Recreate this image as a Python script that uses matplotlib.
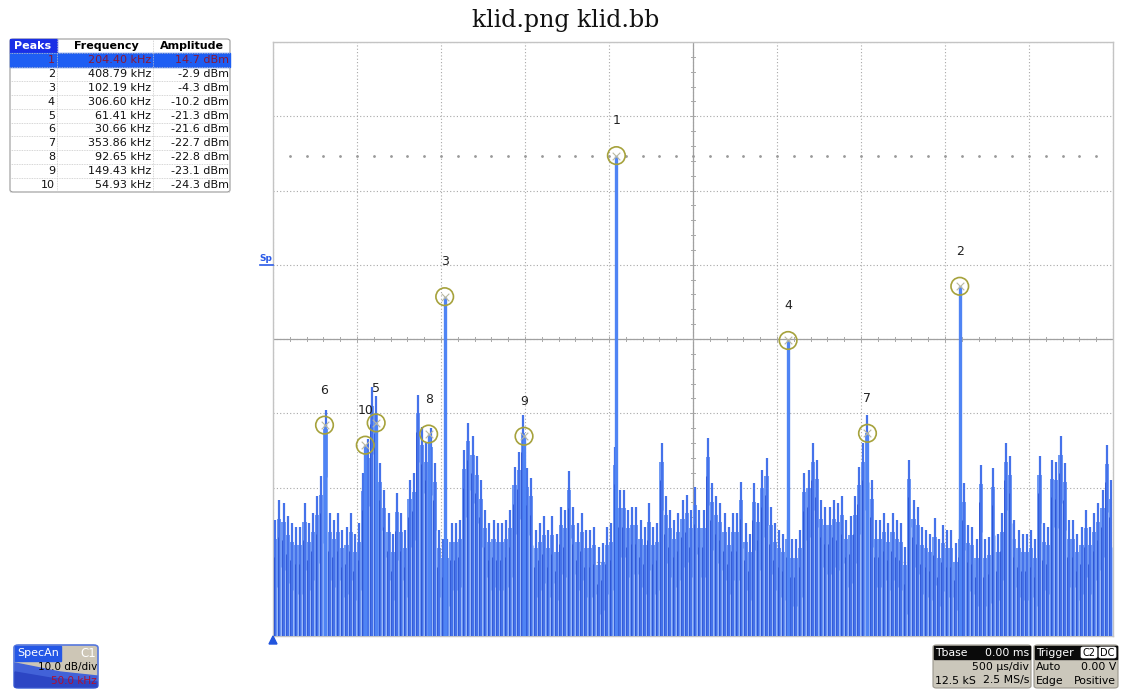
import numpy as np
import matplotlib
matplotlib.use("Agg")
import matplotlib.pyplot as plt
from matplotlib.patches import FancyBboxPatch, Rectangle, Polygon

# ---------------- data ----------------
# Peak table (frequency in kHz, amplitude in dBm)
peak_ids = [1, 2, 3, 4, 5, 6, 7, 8, 9, 10]
peak_freq_khz = [204.40, 408.79, 102.19, 306.60, 61.41, 30.66, 353.86, 92.65, 149.43, 54.93]
peak_amp_dbm = [14.7, -2.9, -4.3, -10.2, -21.3, -21.6, -22.7, -22.8, -23.1, -24.3]

# Spectrum envelope (dBm), one value per 2.5 kHz bin from 0 to 500 kHz
noise_top_dbm = [
    -34.4, -31.7, -32.1, -33.9, -34.8, -35.3, -35.3, -32.1, -34.8, -33.5,
    -31.2, -28.5, -19.6, -33.5, -34.4, -33.5, -35.7, -35.3, -33.5, -36.2,
    -34.8, -28.0, -23.5, -16.5, -17.7, -26.7, -30.3, -33.5, -36.2, -30.8,
    -33.5, -35.7, -29.0, -28.1, -17.5, -21.8, -24.0, -22.0, -26.7, -35.7,
    -37.0, -37.0, -34.8, -34.8, -34.4, -25.0, -21.3, -23.1, -25.8, -29.0,
    -33.0, -34.8, -34.4, -34.8, -34.8, -34.4, -33.0, -27.2, -25.2, -20.2,
    -27.4, -28.7, -35.7, -34.8, -33.9, -35.7, -33.9, -36.2, -32.6, -33.0,
    -27.8, -32.6, -34.8, -33.5, -35.7, -35.7, -35.3, -38.0, -37.5, -35.3,
    -34.8, -24.5, -30.3, -30.3, -33.0, -32.6, -32.6, -34.4, -35.3, -32.1,
    -35.3, -34.8, -24.0, -31.2, -33.0, -34.4, -33.5, -31.7, -31.0, -33.0,
    -29.9, -33.0, -33.0, -23.4, -29.4, -31.2, -32.1, -33.5, -35.3, -33.5,
    -33.5, -29.2, -34.8, -36.2, -29.4, -32.1, -27.6, -26.0, -32.6, -34.8,
    -35.7, -36.2, -34.4, -37.0, -37.0, -35.7, -28.1, -27.6, -24.0, -26.3,
    -31.7, -32.6, -32.6, -31.7, -32.1, -31.2, -34.4, -33.9, -31.2, -27.2,
    -24.0, -20.2, -29.0, -34.4, -34.4, -33.5, -34.8, -33.5, -34.4, -34.8,
    -38.0, -26.3, -31.7, -32.6, -35.3, -35.7, -36.2, -34.1, -37.0, -35.0,
    -35.7, -35.7, -37.5, -34.4, -29.4, -35.0, -35.3, -37.0, -27.0, -37.0,
    -36.6, -27.4, -36.2, -33.5, -24.0, -25.8, -34.4, -35.7, -36.2, -36.2,
    -35.7, -37.0, -25.8, -34.8, -35.3, -26.3, -26.5, -23.1, -26.7, -34.4,
    -34.4, -36.2, -35.3, -33.0, -35.3, -33.5, -32.1, -30.3, -24.3, -29.0,
]
bin_khz = 2.5
noise_freq_khz = np.arange(len(noise_top_dbm)) * bin_khz + bin_khz / 2

freq_span = (0, 500)      # kHz, 50 kHz/div
amp_span = (-50, 30)      # dBm, 10 dB/div

table_header = ["Peaks", "Frequency", "Amplitude"]
tbase_rows = [("Tbase", "0.00 ms"), ("", "500 µs/div"), ("12.5 kS", "2.5 MS/s")]
trigger_rows = [("Trigger", ""), ("Auto", "0.00 V"), ("Edge", "Positive")]

# ---------------- figure ----------------
W, H = 1121, 690
fig = plt.figure(figsize=(W / 100, H / 100), dpi=100)
fig.patch.set_facecolor("white")


def fx(px):
    return px / W


def fy(py):
    return 1 - py / H


# main grid
x0, x1, y0, y1 = 273, 1113, 42, 636
ax = fig.add_axes([fx(x0), fy(y1), (x1 - x0) / W, (y1 - y0) / H])
ax.set_xlim(*freq_span)
ax.set_ylim(*amp_span)
ax.set_xticks(np.arange(0, 501, 50))
ax.set_yticks(np.arange(-50, 31, 10))
ax.tick_params(length=0, labelbottom=False, labelleft=False)
ax.grid(True, color="#a8a8a8", linestyle=(0, (1, 2)), linewidth=0.8)
for s in ax.spines.values():
    s.set_color("#c4c4c4")
    s.set_linewidth(1.0)
ax.set_axisbelow(True)

# centre cross with minor ticks
ax.axhline(-10, color="#a0a0a0", lw=0.9, zorder=1)
ax.axvline(250, color="#a0a0a0", lw=0.9, zorder=1)
for f in np.arange(0, 501, 10):
    ax.plot([f, f], [-10.3, -9.7], color="#a8a8a8", lw=0.7, zorder=1)
for a in np.arange(-50, 31, 2):
    ax.plot([249.0, 251.0], [a, a], color="#a8a8a8", lw=0.7, zorder=1)

# dotted reference level at the strongest peak
ax.scatter(np.arange(10, 500, 10), np.full(49, peak_amp_dbm[0]), s=1.0,
           color="#9a9a9a", zorder=1)

# spectrum trace: dense body plus thin spikes up to the envelope
floor = amp_span[0]
tops = np.array(noise_top_dbm)
ax.fill_between(noise_freq_khz, floor, tops - 2.5, step="mid", color="#709af4",
                lw=0, zorder=2)
ax.vlines(noise_freq_khz, floor, tops, color="#4572ea", lw=1.6, zorder=3)
ax.vlines(noise_freq_khz - 0.9, floor, tops - 5, color="#2a52d2", lw=0.6,
          zorder=3)
ax.vlines(noise_freq_khz + 0.9, floor, tops - 9, color="#a3bff9", lw=0.6,
          zorder=3)
ax.vlines(peak_freq_khz, floor, peak_amp_dbm, color="#4f84f4", lw=2.4,
          zorder=4)

# peak markers
ax.scatter(peak_freq_khz, peak_amp_dbm, s=160, facecolors="none",
           edgecolors="#a6a23c", linewidths=1.2, zorder=6)
ax.scatter(peak_freq_khz, peak_amp_dbm, s=30, marker="x", color="#b8b8a0",
           linewidths=0.8, zorder=6)
for pid, f, a in zip(peak_ids, peak_freq_khz, peak_amp_dbm):
    ax.annotate(str(pid), (f, a), xytext=(0, 25), textcoords="offset points",
                ha="center", va="center", fontsize=9, color="#222222",
                zorder=7)

# ground marker and level marker
fig.patches.append(Polygon([[fx(269), fy(644)], [fx(277), fy(644)], [fx(273), fy(636)]],
                           closed=True, transform=fig.transFigure,
                           color="#2255dd"))
fig.text(fx(266), fy(258), "Sp", fontsize=6.5, color="#2a5ae8",
         fontweight="bold", ha="center", va="center")
fig.lines.append(plt.Line2D([fx(260), fx(273)], [fy(265), fy(265)],
                            transform=fig.transFigure, color="#2a5ae8", lw=1.2))

# title
fig.text(0.505, fy(20), "klid.png klid.bb", fontsize=17, family="DejaVu Serif",
         ha="center", va="center", color="#111111")

# ---------------- peak table ----------------
tx0, tx1, ty0, ty1 = 10, 230, 39, 192
col_edges = [10, 57, 153, 230]
head_h = 14
row_h = (ty1 - ty0 - head_h) / 10

fig.patches.append(FancyBboxPatch((fx(tx0), fy(ty1)), (tx1 - tx0) / W, (ty1 - ty0) / H,
                                  boxstyle="round,pad=0,rounding_size=0.003",
                                  transform=fig.transFigure, facecolor="white",
                                  edgecolor="#9a9a9a", lw=0.8))
fig.patches.append(Rectangle((fx(10), fy(ty0 + head_h)), 47 / W, head_h / H,
                             transform=fig.transFigure, color="#1a2fe6"))
fig.patches.append(Rectangle((fx(10), fy(ty0 + head_h + row_h)), 220 / W, row_h / H,
                             transform=fig.transFigure, color="#1e5ef3"))
hc = ty0 + head_h / 2
fig.text(fx(33), fy(hc), table_header[0], color="white", fontsize=8,
         fontweight="bold", ha="center", va="center")
fig.text(fx(106), fy(hc), table_header[1], color="black", fontsize=8,
         fontweight="bold", ha="center", va="center")
fig.text(fx(192), fy(hc), table_header[2], color="black", fontsize=8,
         fontweight="bold", ha="center", va="center")
for k in range(11):
    yy = ty0 + head_h + k * row_h
    fig.lines.append(plt.Line2D([fx(10), fx(230)], [fy(yy), fy(yy)],
                                transform=fig.transFigure, color="#c8c8c8",
                                lw=0.6, ls=(0, (1, 1))))
for xe in col_edges[1:3]:
    fig.lines.append(plt.Line2D([fx(xe), fx(xe)], [fy(ty0), fy(ty1)],
                                transform=fig.transFigure, color="#c8c8c8",
                                lw=0.6, ls=(0, (1, 1))))
for k, (pid, f, a) in enumerate(zip(peak_ids, peak_freq_khz, peak_amp_dbm)):
    yc = ty0 + head_h + (k + 0.5) * row_h
    c = "#8a1838" if k == 0 else "#111111"
    fig.text(fx(55), fy(yc), str(pid), color=c, fontsize=8, ha="right", va="center")
    fig.text(fx(151), fy(yc), f"{f:.2f} kHz", color=c, fontsize=8, ha="right", va="center")
    fig.text(fx(229), fy(yc), f"{a:.1f} dBm", color=c, fontsize=8, ha="right", va="center")

# ---------------- channel box ----------------
fig.patches.append(FancyBboxPatch((fx(14), fy(688)), 84 / W, 43 / H,
                                  boxstyle="round,pad=0,rounding_size=0.004",
                                  transform=fig.transFigure, facecolor="#cdc6b6",
                                  edgecolor="#5577dd", lw=1.2))
fig.patches.append(Polygon([[fx(15), fy(687)], [fx(15), fy(663)], [fx(35), fy(667)],
                            [fx(60), fy(672)], [fx(97), fy(676)], [fx(97), fy(687)]],
                           closed=True, transform=fig.transFigure, color="#4262d8"))
fig.patches.append(Polygon([[fx(15), fy(687)], [fx(15), fy(672)], [fx(50), fy(678)],
                            [fx(97), fy(682)], [fx(97), fy(687)]],
                           closed=True, transform=fig.transFigure, color="#2c46c4"))
fig.patches.append(Rectangle((fx(15), fy(661)), 46 / W, 15 / H,
                             transform=fig.transFigure, color="#2457e6"))
fig.text(fx(38), fy(653.5), "SpecAn", color="white", fontsize=8, ha="center", va="center")
fig.text(fx(96), fy(653.5), "C1", color="white", fontsize=8.5, ha="right", va="center")
fig.text(fx(97), fy(667), "10.0 dB/div", color="black", fontsize=7.5, ha="right", va="center")
fig.text(fx(97), fy(681), "50.0 kHz", color="#b01030", fontsize=7.5, ha="right", va="center")


# ---------------- timebase / trigger boxes ----------------
def info_box(left, right, rows, badges=()):
    fig.patches.append(FancyBboxPatch((fx(left), fy(688)), (right - left) / W, 43 / H,
                                      boxstyle="round,pad=0,rounding_size=0.003",
                                      transform=fig.transFigure, facecolor="#cbc7bb",
                                      edgecolor="#9a968c", lw=0.8))
    fig.patches.append(Rectangle((fx(left + 1), fy(659)), (right - left - 2) / W, 13 / H,
                                 transform=fig.transFigure, color="#0a0a0a"))
    for r, (lt, rt) in enumerate(rows):
        yc = 652.5 + r * 14
        col = "white" if r == 0 else "black"
        fig.text(fx(left + 2), fy(yc), lt, color=col, fontsize=7.8, ha="left", va="center")
        fig.text(fx(right - 2), fy(yc), rt, color=col, fontsize=7.8, ha="right", va="center")
    for bx0, bx1, txt in badges:
        fig.patches.append(FancyBboxPatch((fx(bx0), fy(658)), (bx1 - bx0) / W, 11 / H,
                                          boxstyle="round,pad=0,rounding_size=0.002",
                                          transform=fig.transFigure, facecolor="white",
                                          edgecolor="white", lw=0.5))
        fig.text(fx((bx0 + bx1) / 2), fy(652.5), txt, color="black", fontsize=7,
                 ha="center", va="center")


info_box(933, 1031, tbase_rows)
info_box(1034, 1118, trigger_rows, badges=[(1081, 1097, "C2"), (1099, 1116, "DC")])

fig.savefig("out.png", dpi=100)
